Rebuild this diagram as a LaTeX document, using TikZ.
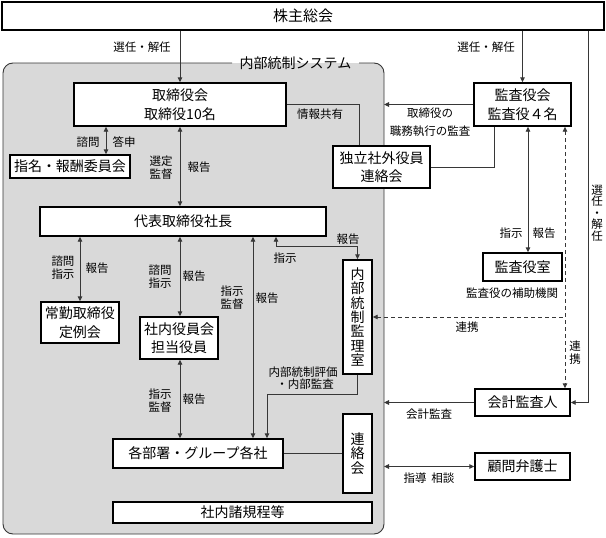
\documentclass[tikz,border=0pt]{standalone}
\usepackage{fontspec}
\setmainfont{Noto Sans CJK JP}
\usetikzlibrary{arrows.meta}
\definecolor{sysgray}{RGB}{217,217,217}
\definecolor{conncol}{RGB}{55,55,55}
\tikzset{
  bx/.style={draw=black, line width=1.4pt, fill=white, inner sep=0pt, align=center, font=\fontsize{14}{18.5}\selectfont},
  vbx/.style={bx, font=\fontsize{14}{14.4}\selectfont},
  lbl/.style={inner sep=0pt, align=center, font=\fontsize{11.5}{13}\selectfont},
  vlbl/.style={inner sep=0pt, align=center, font=\fontsize{11.5}{11.5}\selectfont},
  conn/.style={draw=conncol, line width=0.9pt},
  dsh/.style={conn, dash pattern=on 4pt off 3pt},
  >={Triangle[length=5pt,width=4.5pt]}
}
\begin{document}
\begin{tikzpicture}[x=1pt,y=-1pt]
\useasboundingbox (0,0) rectangle (606,538);
% system region
\fill[sysgray, rounded corners=10pt] (3,63) rectangle (384,534);
\draw[conncol, line width=0.9pt, rounded corners=10pt] (359,63) -- (384,63) -- (384,534) -- (3,534) -- (3,63) -- (232,63);
\node[inner sep=0pt, font=\fontsize{14}{16}\selectfont] (systitle) at (295.5,63) {内部統制システム};
\coordinate (sysE) at (384,0);
\coordinate (X106) at (106,0);
\coordinate (X253) at (253,0);
\coordinate (X528) at (528,0);
\coordinate (X565) at (565,0);
\coordinate (X588) at (588,0);
\coordinate (c1) at (276,246);
\coordinate (c2) at (267,394);
\coordinate (c3) at (359,104.5);
\coordinate (c4) at (494,167);

% boxes
\node[bx, minimum width=602pt, minimum height=28pt, font=\fontsize{15}{18}\selectfont] (kabu) at (303,16) {株主総会};
\node[bx, minimum width=212pt, minimum height=43pt] (tb) at (180,104.5) {取締役会\\取締役10名};
\node[bx, minimum width=97pt, minimum height=43pt] (ka) at (522.5,104.5) {監査役会\\監査役４名};
\node[bx, minimum width=97pt, minimum height=42pt] (dok) at (381.5,167) {独立社外役員\\連絡会};
\node[bx, minimum width=120pt, minimum height=23pt] (shimei) at (70,166.5) {指名・報酬委員会};
\node[bx, minimum width=286pt, minimum height=29pt] (daihyo) at (183,221.5) {代表取締役社長};
\node[bx, minimum width=78pt, minimum height=41pt] (joukin) at (80,322.5) {常勤取締役\\定例会};
\node[bx, minimum width=78pt, minimum height=42pt] (shanai) at (179,338) {社内役員会\\担当役員};
\node[bx, minimum width=170pt, minimum height=29pt] (kakubu) at (198,453.5) {各部署・グループ各社};
\node[vbx, minimum width=29pt, minimum height=114pt] (naibu) at (357.5,317) {内\\部\\統\\制\\監\\理\\室};
\node[vbx, minimum width=29pt, minimum height=79pt] (renraku) at (357.5,453.5) {連\\絡\\会};
\node[bx, minimum width=259pt, minimum height=21pt] (kitei) at (242.5,512.5) {社内諸規程等};
\node[bx, minimum width=79pt, minimum height=28pt] (shitsu) at (522.5,267) {監査役室};
\node[bx, minimum width=95pt, minimum height=27pt] (kaikei) at (522.5,402.5) {会計監査人};
\node[bx, minimum width=95pt, minimum height=27pt] (komon) at (522.5,466.5) {顧問弁護士};

% connectors
\draw[conn,->] (kabu.south -| tb.north) -- (tb.north);
\draw[conn,->] (kabu.south -| ka.north) -- (ka.north);
\draw[conn,->] (kabu.south -| X588) -- (X588 |- kaikei.east) -- (kaikei.east);
\draw[conn,<->] (tb.south -| X106) -- (shimei.north -| X106);
\draw[conn,<->] (tb.south) -- (daihyo.north -| tb.south);
\draw[conn,<->] (daihyo.south -| joukin.north) -- (joukin.north);
\draw[conn,<->] (daihyo.south -| tb.south) -- (shanai.north -| tb.south);
\draw[conn,<->] (daihyo.south -| X253) -- (kakubu.north -| X253);
\draw[conn,<->] (daihyo.south -| c1) -- (c1) -- (c1 -| naibu.north) -- (naibu.north);
\draw[conn,<->] (shanai.south -| tb.south) -- (kakubu.north -| tb.south);
\draw[conn,->] (naibu.south) -- (naibu.south |- c2) -- (c2) -- (c2 |- kakubu.north);
\draw[conn] (kakubu.east) -- (kakubu.east -| renraku.west);
\draw[conn] (tb.east) -- (c3) -- (c3 |- dok.north);
\draw[conn] (ka.south -| c4) -- (c4) -- (c4 -| dok.east);
\draw[conn,->] (ka.west) -- (ka.west -| sysE);
\draw[conn,<->] (ka.south -| X528) -- (shitsu.north -| X528);
\draw[dsh,<->] (ka.south -| X565) -- (kaikei.north -| X565);
\draw[dsh,<-] (naibu.east) -- (naibu.east -| X565);
\draw[conn,->] (kaikei.west) -- (kaikei.west -| sysE);
\draw[conn,<->] (komon.west) -- (komon.west -| sysE);

% labels
\node[lbl] (l1) at (142,47) {選任・解任};
\node[lbl] (l2) at (486,47) {選任・解任};
\node[vlbl] (l3) at (597,213) {選\\任\\・\\解\\任};
\node[lbl] (l4) at (320,114) {情報共有};
\node[lbl, font=\fontsize{11.5}{18.5}\selectfont] (l5) at (430,122) {取締役の\\職務執行の監査};
\node[lbl] (l6) at (88,142) {諮問};
\node[lbl] (l7) at (124,142) {答申};
\node[lbl] (l8) at (161,167.5) {選定\\監督};
\node[lbl] (l9) at (199,167) {報告};
\node[lbl] (l10) at (348,239) {報告};
\node[lbl] (l11) at (285,258) {指示};
\node[lbl] (l12) at (63,267.5) {諮問\\指示};
\node[lbl] (l13) at (97,268) {報告};
\node[lbl] (l14) at (160,277) {諮問\\指示};
\node[lbl] (l15) at (194,276) {報告};
\node[lbl] (l16) at (232,297.5) {指示\\監督};
\node[lbl] (l17) at (267,298) {報告};
\node[lbl] (l18) at (160,401) {指示\\監督};
\node[lbl] (l19) at (194,399) {報告};
\node[lbl] (l20) at (303,372) {内部統制評価};
\node[lbl] (l21) at (305,384) {・内部監査};
\node[lbl] (l22) at (511,233) {指示};
\node[lbl] (l23) at (544,233) {報告};
\node[lbl] (l24) at (512,293) {監査役の補助機関};
\node[lbl] (l25) at (467,327) {連携};
\node[vlbl, font=\fontsize{11.5}{13}\selectfont] (l26) at (575,353) {連\\携};
\node[lbl] (l27) at (429,414) {会計監査};
\node[lbl] (l28) at (429,478) {指導\hspace{5pt}相談};
\end{tikzpicture}
\end{document}
